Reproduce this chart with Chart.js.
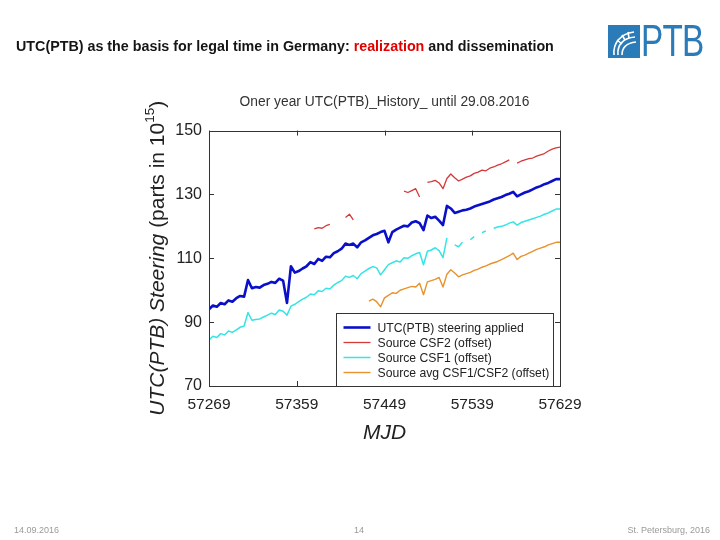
<!DOCTYPE html>
<html><head><meta charset="utf-8">
<script src="https://cdn.jsdelivr.net/npm/chart.js@4/dist/chart.umd.min.js"></script>
<style>
html,body{margin:0;padding:0;background:#fff;}
#wrap{position:relative;width:720px;height:540px;overflow:hidden;font-family:"Liberation Sans",Arial,sans-serif;}
#chartBox{position:absolute;left:0;top:0;width:720px;height:540px;}
#hdr{position:absolute;left:16px;top:38px;font-size:14.3px;font-weight:bold;color:#151515;white-space:nowrap;}
#hdr .red{color:#e00000;}
#logo{position:absolute;left:608px;top:25px;height:33px;}
#logoBox{position:absolute;left:0;top:0;width:32px;height:33px;background:#2b7bb9;}
#logoTxt{position:absolute;left:33px;top:-9px;font-family:"Liberation Sans",Arial,sans-serif;font-size:45px;color:#2b7bb9;letter-spacing:-1px;line-height:50px;transform:scaleX(0.74);transform-origin:0 0;}
.foot{position:absolute;top:525px;font-size:9px;color:#9a9a9a;white-space:nowrap;}
</style></head>
<body><div id="wrap">
<div id="chartBox"><canvas id="c" width="720" height="540"></canvas></div>
<div id="hdr">UTC(PTB) as the basis for legal time in Germany: <span class="red">realization</span> and dissemination</div>
<div id="logo"><div id="logoBox"><svg width="32" height="33" viewBox="0 0 32 33"><g fill="none" stroke="#fff" stroke-width="1.6"><path d="M6 30 C5 18 12 9 26 7"/><path d="M10 30 C9 20 15 13 27 12"/><path d="M14 30 C14 23 18 18 28 17"/><path d="M9 15 L14 19 M14 10 L17 15 M20 7 L21 13"/></g></svg></div><div id="logoTxt">PTB</div></div>
<div class="foot" style="left:14px;">14.09.2016</div>
<div class="foot" style="left:354px;">14</div>
<div class="foot" style="right:10px;">St. Petersburg, 2016</div>
</div>
<script>
// ---- data ----
const mjd = [];
for (let d = 57269; d <= 57629; d += 4) mjd.push(d);
const xTickValues = [57269, 57359, 57449, 57539, 57629];
const yTickValues = [70, 90, 110, 130, 150];
const seriesLabels = ['UTC(PTB) steering applied', 'Source CSF2 (offset)', 'Source CSF1 (offset)', 'Source avg CSF1/CSF2 (offset)'];

const utcSteering = [
 94.0,95.2,94.8,96.0,95.6,96.8,96.4,97.5,98.2,98.0,
 103.2,100.6,101.0,100.8,101.6,102.0,102.6,102.3,103.6,103.0,
 96.0,107.5,105.5,106.0,106.8,107.5,108.8,108.2,109.8,109.2,
 110.5,110.3,111.6,112.2,113.0,114.6,114.2,114.6,113.4,115.0,
 115.6,116.4,117.2,117.6,118.2,118.6,115.0,118.2,119.0,119.6,
 120.2,120.0,121.2,121.6,121.0,118.8,123.4,122.6,123.0,121.8,
 120.4,126.4,125.6,124.2,124.6,125.0,125.2,125.6,126.2,126.6,
 127.0,127.4,127.8,128.4,128.8,129.2,129.8,130.2,130.8,129.4,
 130.0,130.6,131.0,131.6,132.2,132.6,133.2,133.6,134.2,134.8,
 134.8
];
const csf2 = [
 null,null,null,null,null,null,null,null,null,null,
 null,null,null,null,null,null,null,null,null,null,
 null,null,null,null,null,null,null,119.2,119.6,119.4,
 120.2,120.6,null,null,null,122.8,123.8,122.0,null,null,
 null,null,null,null,null,null,null,null,null,null,
 131.0,130.6,131.2,131.8,129.2,null,133.8,134.0,134.4,133.6,
 131.8,135.0,136.4,135.2,134.2,134.8,135.4,135.8,136.6,137.0,
 137.6,137.4,138.2,138.6,139.2,139.6,140.2,140.8,null,139.8,
 140.4,140.8,141.2,141.4,142.0,142.4,142.8,143.6,144.2,144.6,
 144.8
];
const csf1 = [
 84.4,85.6,85.2,86.4,86.0,87.2,86.8,87.6,88.4,88.8,
 93.0,90.6,90.8,91.0,91.6,92.2,92.8,92.4,93.8,93.4,
 92.2,95.0,95.6,96.4,97.2,97.8,98.8,98.6,99.8,99.6,
 100.6,100.4,101.6,102.4,103.0,104.4,104.0,104.6,103.6,105.2,
 106.0,106.8,107.4,107.0,104.8,106.4,108.0,108.6,109.2,108.8,
 110.2,110.0,110.8,111.4,111.8,108.0,112.2,112.6,113.3,112.4,
 110.2,116.4,null,114.2,113.6,115.0,null,115.8,116.8,null,
 118.0,118.6,null,119.4,119.8,120.0,120.4,121.0,121.4,120.4,
 121.2,121.6,122.0,122.4,122.8,123.2,123.8,124.2,124.8,125.4,
 125.4
];
const csfAvg = [
 null,null,null,null,null,null,null,null,null,null,
 null,null,null,null,null,null,null,null,null,null,
 null,null,null,null,null,null,null,null,null,null,
 null,null,null,null,null,null,null,null,null,null,
 null,96.6,97.2,96.4,94.8,97.6,98.4,99.2,99.0,100.0,
 100.4,100.8,101.2,101.0,102.2,98.6,102.6,103.0,103.4,104.0,
 101.0,105.0,106.4,105.4,104.2,104.8,105.2,105.6,106.2,106.6,
 107.2,107.6,108.2,108.6,109.0,109.6,110.2,110.8,111.6,109.6,
 110.6,111.0,111.6,112.2,112.8,113.2,113.6,114.2,114.6,115.0,
 115.0
];

const toXY = arr => arr.map((v, i) => ({x: mjd[i], y: v}));
const FONT = '"Liberation Sans", Arial, sans-serif';

const frameTicks = {
  id: 'frameTicks',
  afterDatasetsDraw(chart) {
    const {ctx, chartArea: a, scales: {x, y}} = chart;
    ctx.save();
    ctx.strokeStyle = '#333';
    ctx.lineWidth = 1;
    const L = 5;
    ctx.beginPath();
    x.ticks.forEach(t => {
      const px = Math.round(x.getPixelForValue(t.value)) + 0.5;
      ctx.moveTo(px, a.top); ctx.lineTo(px, a.top + L);
      ctx.moveTo(px, a.bottom); ctx.lineTo(px, a.bottom - L);
    });
    y.ticks.forEach(t => {
      const py = Math.round(y.getPixelForValue(t.value)) + 0.5;
      ctx.moveTo(a.left, py); ctx.lineTo(a.left + L, py);
      ctx.moveTo(a.right, py); ctx.lineTo(a.right - L, py);
    });
    ctx.stroke();
    ctx.strokeRect(Math.round(a.left) + 0.5, Math.round(a.top) + 0.5, Math.round(a.right - a.left), Math.round(a.bottom - a.top));

    // legend box inside plot (lower right)
    const lx = Math.round(a.right - 224) + 0.5, ly = Math.round(a.bottom - 73) + 0.5;
    const lw = 217, lh = Math.round(a.bottom) - ly + 0.5;
    ctx.fillStyle = '#fff';
    ctx.fillRect(lx, ly, lw, lh);
    ctx.strokeRect(lx, ly, lw, lh);
    ctx.font = '12.2px ' + FONT;
    ctx.textBaseline = 'middle';
    ctx.textAlign = 'left';
    chart.data.datasets.forEach((ds, i) => {
      const cy = ly + 14 + i * 15;
      ctx.strokeStyle = ds.borderColor;
      ctx.lineWidth = ds.borderWidth;
      ctx.beginPath(); ctx.moveTo(lx + 7, cy); ctx.lineTo(lx + 34, cy); ctx.stroke();
      ctx.fillStyle = '#222';
      ctx.fillText(ds.label, lx + 41, cy + 1);
    });

    // y axis title: italic + normal with superscript
    ctx.translate(a.left - 52, (a.top + a.bottom) / 2);
    ctx.rotate(-Math.PI / 2);
    ctx.fillStyle = '#222';
    const f1 = 'italic 21px ' + FONT, f2 = '21px ' + FONT, f3 = '13.5px ' + FONT;
    const p1 = 'UTC(PTB) Steering', p2 = ' (parts in 10', p3 = '15', p4 = ')';
    ctx.font = f1; const w1 = ctx.measureText(p1).width;
    ctx.font = f2; const w2 = ctx.measureText(p2).width; const w4 = ctx.measureText(p4).width;
    ctx.font = f3; const w3 = ctx.measureText(p3).width;
    let sx = -(w1 + w2 + w3 + w4) / 2;
    ctx.textBaseline = 'alphabetic';
    ctx.font = f1; ctx.fillText(p1, sx, 7); sx += w1;
    ctx.font = f2; ctx.fillText(p2, sx, 7); sx += w2;
    ctx.font = f3; ctx.fillText(p3, sx, -3); sx += w3;
    ctx.font = f2; ctx.fillText(p4, sx, 7);
    ctx.restore();
  }
};

new Chart(document.getElementById('c'), {
  type: 'line',
  data: {
    datasets: [
      {label: seriesLabels[0], data: toXY(utcSteering), borderColor: '#0a10c8', borderWidth: 2.6},
      {label: seriesLabels[1], data: toXY(csf2), borderColor: '#d23a3a', borderWidth: 1.3},
      {label: seriesLabels[2], data: toXY(csf1), borderColor: '#35e4e4', borderWidth: 1.5},
      {label: seriesLabels[3], data: toXY(csfAvg), borderColor: '#e8922e', borderWidth: 1.4}
    ]
  },
  options: {
    responsive: false,
    animation: false,
    spanGaps: false,
    elements: {point: {radius: 0}, line: {tension: 0, borderJoinStyle: 'round', fill: false}},
    layout: {padding: {left: 169, right: 160, top: 0, bottom: 94}},
    plugins: {
      legend: {display: false},
      tooltip: {enabled: false},
      title: {display: true, fullSize: false, text: 'Oner year UTC(PTB)_History_ until 29.08.2016',
        color: '#333', font: {family: FONT, size: 13.8, weight: 'normal'}, padding: {top: 94, bottom: 20}}
    },
    scales: {
      x: {
        type: 'linear', min: 57269, max: 57629,
        afterBuildTicks: s => { s.ticks = xTickValues.map(v => ({value: v})); },
        afterFit: s => { s.height = 60; s.paddingLeft = 0; s.paddingRight = 0; },
        grid: {display: false, drawTicks: false},
        border: {display: false},
        ticks: {color: '#222', font: {family: FONT, size: 15.5}, padding: 9, maxRotation: 0, callback: v => String(v)},
        title: {display: true, text: 'MJD', color: '#222', font: {family: FONT, size: 21, style: 'italic'}, padding: {top: 0, bottom: 0}}
      },
      y: {
        type: 'linear', min: 70, max: 150,
        afterBuildTicks: s => { s.ticks = yTickValues.map(v => ({value: v})); },
        afterFit: s => { s.width = 40; s.paddingTop = 0; s.paddingBottom = 0; },
        grid: {display: false, drawTicks: false},
        border: {display: false},
        ticks: {color: '#222', font: {family: FONT, size: 16}, padding: 7, callback: v => String(v)}
      }
    }
  },
  plugins: [frameTicks]
});
</script>
</body></html>
